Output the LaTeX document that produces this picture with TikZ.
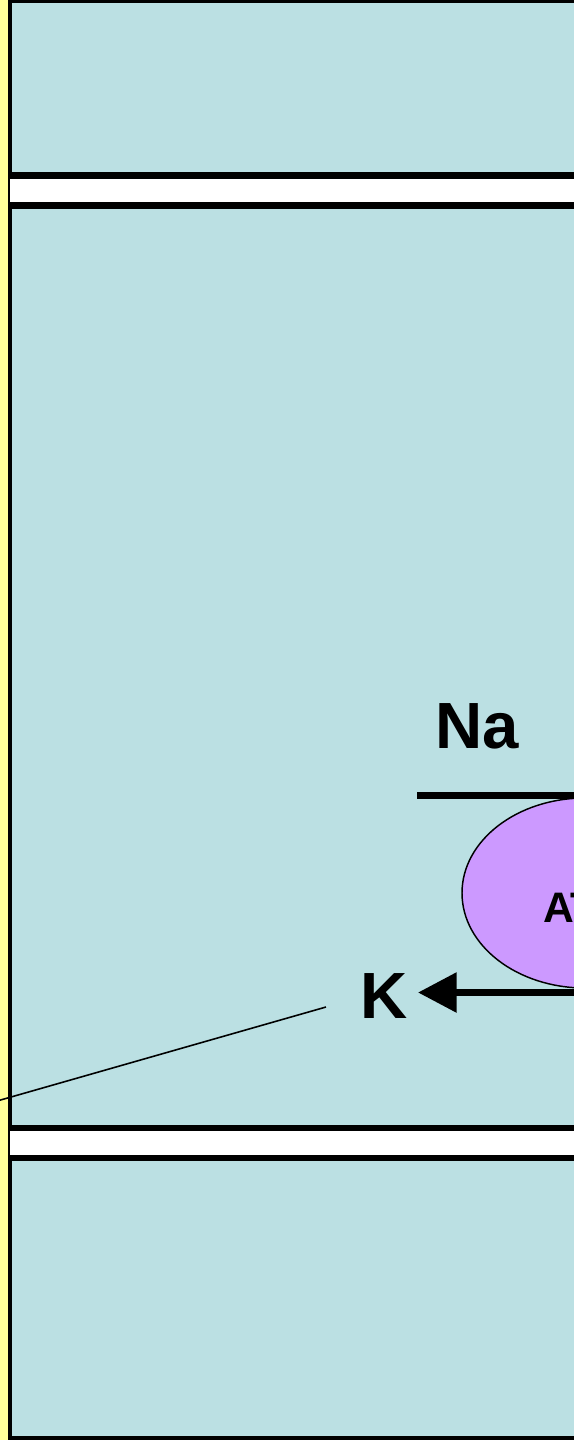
\documentclass[tikz,border=0pt]{standalone}
\usepackage{fontspec}
\setmainfont{Liberation Sans}
\usetikzlibrary{arrows.meta,shapes.geometric}
\definecolor{cellblue}{RGB}{187,224,227}
\definecolor{stripyellow}{RGB}{255,255,153}
\definecolor{pumppurple}{RGB}{204,153,255}

\begin{document}
\begin{tikzpicture}[x=0.75pt,y=0.75pt,yscale=-1,xscale=1,
  cell/.style={fill=cellblue},
  band/.style={fill=white},
  ion/.style={font=\bfseries\fontsize{49}{49}\selectfont,inner sep=0pt},
  flux/.style={line width=5.25pt}]
\useasboundingbox (0,0) rectangle (574,1440);
\clip (0,0) rectangle (574,1440);

% Strip and frame
\fill[stripyellow] (0,0) rectangle (8,1440);
\fill[black] (8,0) rectangle (574,1440);
% Cells
\fill[cell] (12,3) rectangle (574,172);
\fill[band] (10,179) rectangle (574,202);
\fill[cell] (12,209) rectangle (574,1125);
\fill[band] (10,1131) rectangle (574,1155);
\fill[cell] (12,1161) rectangle (574,1436);

% Pump
\node[ellipse,draw=black,line width=1.1pt,fill=pumppurple,minimum width=184.5pt,minimum height=142.5pt,inner sep=0pt] (pump) at (585,893) {};
\node[anchor=west,inner sep=0pt,font=\bfseries\fontsize{32}{32}\selectfont] (atp) at (543,908) {AT};

% Na
\node[ion,anchor=base west] (na) at (435,748) {Na};
\coordinate (naL) at (417,795.5);
\coordinate (naR) at (580,795.5);
\draw[flux] (naL) -- (naR);

% K
\node[ion,anchor=base west] (k) at (360,1018) {K};
\coordinate (kR) at (580,992.5);
\coordinate (kTip) at (418,992.5);
\draw[flux,-{Triangle[length=29pt,width=29pt]}] (kR) -- (kTip);

% Pointer
\coordinate (tail) at (326,1007);
\coordinate (lead) at (-10,1103);
\draw[line width=1.2pt] (tail) -- (lead);

\end{tikzpicture}
\end{document}
